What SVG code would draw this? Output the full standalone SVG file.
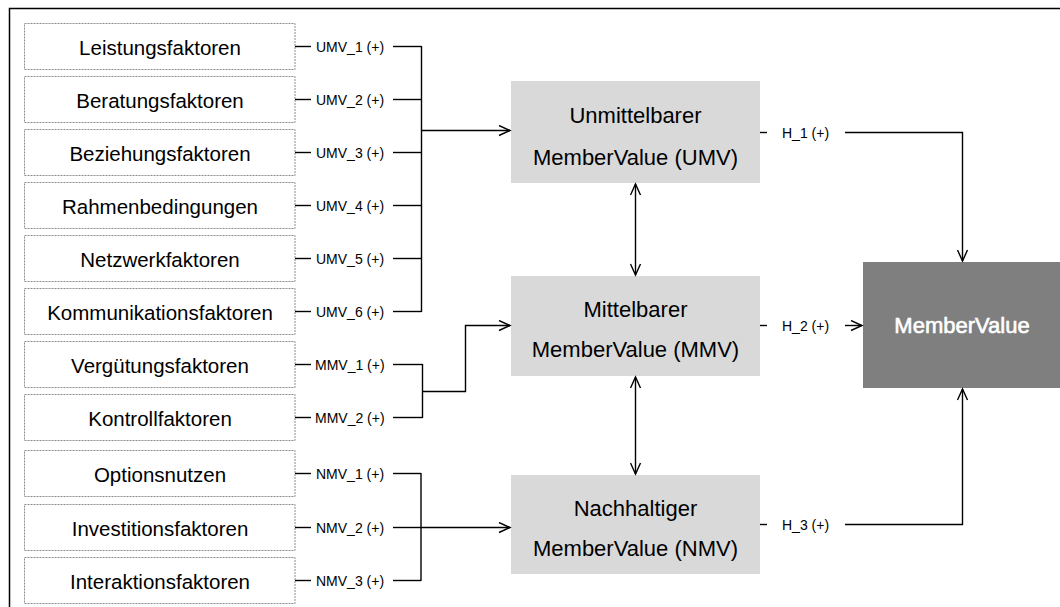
<svg xmlns="http://www.w3.org/2000/svg" width="1060" height="607" viewBox="0 0 1060 607">
<defs>
<style>
.src rect{fill:#fff;stroke:#8c8c8c;stroke-width:1;stroke-dasharray:2,1}
.src text{font-family:"Liberation Sans",Arial,sans-serif;font-size:20.5px;fill:#000;text-anchor:middle}
.mid rect{fill:#d9d9d9}
.mid text{font-family:"Liberation Sans",Arial,sans-serif;font-size:22px;fill:#000;text-anchor:middle}
.lbl{font-family:"Liberation Sans",Arial,sans-serif;font-size:14px;fill:#000}
.c line,.c path{stroke:#000;stroke-width:1.4;fill:none}
.a{marker-end:url(#ah)}
.b{marker-end:url(#ah);marker-start:url(#ah)}
</style>
<marker id="ah" markerUnits="userSpaceOnUse" markerWidth="14" markerHeight="12" refX="12" refY="6" orient="auto-start-reverse">
<path d="M1,1 L12,6 L1,11" fill="none" stroke="#000" stroke-width="1.4"/>
</marker>
</defs>
<rect x="0" y="0" width="1060" height="607" fill="#fff"/>
<rect id="frame" x="9.5" y="8.5" width="1200" height="700" fill="none" stroke="#000" stroke-width="1.5"/>

<g id="n1" class="src"><rect x="24.5" y="23.5" width="270.5" height="46"/><text x="160" y="55">Leistungsfaktoren</text></g>
<g id="n2" class="src"><rect x="24.5" y="76.5" width="270.5" height="46"/><text x="160" y="108">Beratungsfaktoren</text></g>
<g id="n3" class="src"><rect x="24.5" y="129.5" width="270.5" height="46"/><text x="160" y="161">Beziehungsfaktoren</text></g>
<g id="n4" class="src"><rect x="24.5" y="182.5" width="270.5" height="46"/><text x="160" y="214">Rahmenbedingungen</text></g>
<g id="n5" class="src"><rect x="24.5" y="235.5" width="270.5" height="46"/><text x="160" y="267">Netzwerkfaktoren</text></g>
<g id="n6" class="src"><rect x="24.5" y="288.5" width="270.5" height="46"/><text x="160" y="320">Kommunikationsfaktoren</text></g>
<g id="n7" class="src"><rect x="24.5" y="341.5" width="270.5" height="46"/><text x="160" y="373">Vergütungsfaktoren</text></g>
<g id="n8" class="src"><rect x="24.5" y="394.5" width="270.5" height="46"/><text x="160" y="426">Kontrollfaktoren</text></g>
<g id="n9" class="src"><rect x="24.5" y="450.5" width="270.5" height="46"/><text x="160" y="482">Optionsnutzen</text></g>
<g id="n10" class="src"><rect x="24.5" y="504.5" width="270.5" height="46"/><text x="160" y="536">Investitionsfaktoren</text></g>
<g id="n11" class="src"><rect x="24.5" y="557.5" width="270.5" height="46"/><text x="160" y="589">Interaktionsfaktoren</text></g>

<g id="umv" class="mid"><rect x="511" y="81" width="249" height="102"/><text x="635.5" y="123">Unmittelbarer</text><text x="635.5" y="165">MemberValue (UMV)</text></g>
<g id="mmv" class="mid"><rect x="511" y="276" width="249" height="100"/><text x="635.5" y="317">Mittelbarer</text><text x="635.5" y="357">MemberValue (MMV)</text></g>
<g id="nmv" class="mid"><rect x="511" y="475" width="249" height="99"/><text x="635.5" y="516">Nachhaltiger</text><text x="635.5" y="556">MemberValue (NMV)</text></g>
<g id="mv"><rect x="863" y="262" width="200" height="126" fill="#7f7f7f"/><text x="962" y="333" font-family="Liberation Sans, Arial, sans-serif" font-size="22" fill="#fff" stroke="#fff" stroke-width="0.6" text-anchor="middle">MemberValue</text></g>

<g id="connectors" class="c">
<line x1="295" y1="46.5" x2="311" y2="46.5"/><line x1="393" y1="46.5" x2="421.5" y2="46.5"/>
<line x1="295" y1="99.5" x2="311" y2="99.5"/><line x1="393" y1="99.5" x2="421.5" y2="99.5"/>
<line x1="295" y1="152.5" x2="311" y2="152.5"/><line x1="393" y1="152.5" x2="421.5" y2="152.5"/>
<line x1="295" y1="205.5" x2="311" y2="205.5"/><line x1="393" y1="205.5" x2="421.5" y2="205.5"/>
<line x1="295" y1="258.5" x2="311" y2="258.5"/><line x1="393" y1="258.5" x2="421.5" y2="258.5"/>
<line x1="295" y1="311.5" x2="311" y2="311.5"/><line x1="393" y1="311.5" x2="421.5" y2="311.5"/>
<line x1="421.5" y1="46" x2="421.5" y2="312"/>
<line class="a" x1="421.5" y1="130.5" x2="510" y2="130.5"/>

<line x1="295" y1="364.5" x2="311" y2="364.5"/><line x1="393" y1="364.5" x2="422.5" y2="364.5"/>
<line x1="295" y1="417.5" x2="311" y2="417.5"/><line x1="393" y1="417.5" x2="422.5" y2="417.5"/>
<line x1="422.5" y1="364" x2="422.5" y2="418"/>
<path class="a" d="M422.5,391.5 H465.5 V325.5 H510"/>

<line x1="295" y1="473.5" x2="311" y2="473.5"/><line x1="393" y1="473.5" x2="421" y2="473.5"/>
<line x1="295" y1="527.5" x2="311" y2="527.5"/><line x1="393" y1="527.5" x2="421" y2="527.5"/>
<line x1="295" y1="580.5" x2="311" y2="580.5"/><line x1="393" y1="580.5" x2="421" y2="580.5"/>
<line x1="421" y1="473" x2="421" y2="581"/>
<line class="a" x1="421" y1="527.5" x2="510" y2="527.5"/>

<line class="b" x1="635.5" y1="184" x2="635.5" y2="275"/>
<line class="b" x1="635.5" y1="377" x2="635.5" y2="474"/>

<line x1="760" y1="132.5" x2="767" y2="132.5"/>
<path class="a" d="M845,132.5 H962.5 V261"/>
<line x1="760" y1="325.5" x2="767" y2="325.5"/>
<line class="a" x1="845" y1="325.5" x2="862" y2="325.5"/>
<line x1="760" y1="524.5" x2="767" y2="524.5"/>
<path class="a" d="M845,524.5 H962.5 V389"/>

<text class="lbl" x="316" y="51.5">UMV_1 (+)</text>
<text class="lbl" x="316" y="104.5">UMV_2 (+)</text>
<text class="lbl" x="316" y="157.5">UMV_3 (+)</text>
<text class="lbl" x="316" y="210.5">UMV_4 (+)</text>
<text class="lbl" x="316" y="263.5">UMV_5 (+)</text>
<text class="lbl" x="316" y="316.5">UMV_6 (+)</text>
<text class="lbl" x="315" y="369.5">MMV_1 (+)</text>
<text class="lbl" x="315" y="422.5">MMV_2 (+)</text>
<text class="lbl" x="316" y="478.5">NMV_1 (+)</text>
<text class="lbl" x="316" y="532.5">NMV_2 (+)</text>
<text class="lbl" x="316" y="585.5">NMV_3 (+)</text>
<text class="lbl" x="782" y="137.5">H_1 (+)</text>
<text class="lbl" x="782" y="330.5">H_2 (+)</text>
<text class="lbl" x="782" y="529.5">H_3 (+)</text>
</g>
</svg>
